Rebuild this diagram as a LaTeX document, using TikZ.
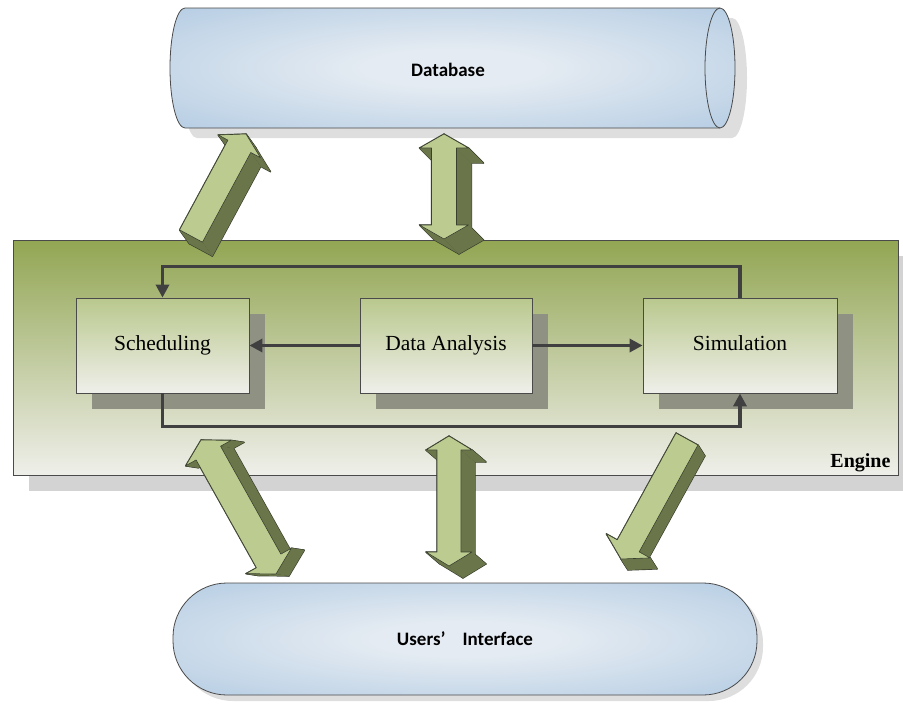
\documentclass[tikz,border=0pt]{standalone}
\usepackage{fontspec}
\setmainfont{Liberation Serif}
\newfontfamily\capfont{Carlito}
\usetikzlibrary{calc,shadows,arrows.meta}

\definecolor{dbinner}{HTML}{E4EBF2}
\definecolor{dbouter}{HTML}{A5C2DE}
\definecolor{frame}{HTML}{4A4A4A}
\definecolor{enginetop}{HTML}{92A653}
\definecolor{enginebot}{HTML}{EFEFEA}
\definecolor{boxtop}{HTML}{B9C88D}
\definecolor{boxbot}{HTML}{EFEFEA}
\definecolor{boxshade}{HTML}{8F9283}
\definecolor{engineshade}{HTML}{D3D3D3}
\definecolor{dbshade}{HTML}{DEDEDE}
\definecolor{wire}{HTML}{404040}
\definecolor{face}{HTML}{BCCB8F}
\definecolor{side}{HTML}{6A7649}
\definecolor{rim}{HTML}{3A4030}

\pgfdeclareradialshading{glow}{\pgfpoint{0bp}{0bp}}{%
  color(0bp)=(dbinner); color(8bp)=(dbinner); color(46bp)=(dbouter); color(100bp)=(dbouter)}

% corner points of a single-headed block arrow: name, tail, tip, shaft half width, head half width, head length
\newcommand\singlearrow[6]{%
  \coordinate (#1-b) at ($(#3)!#6!(#2)$);
  \coordinate (#1-1) at ($(#2)!#4!90:(#3)$);
  \coordinate (#1-2) at ($(#1-b)!#4!90:(#3)$);
  \coordinate (#1-3) at ($(#1-b)!#5!90:(#3)$);
  \coordinate (#1-4) at (#3);
  \coordinate (#1-5) at ($(#1-b)!#5!-90:(#3)$);
  \coordinate (#1-6) at ($(#1-b)!#4!-90:(#3)$);
  \coordinate (#1-7) at ($(#2)!#4!-90:(#3)$);
}
% corner points of a double-headed block arrow: name, end A, end B, shaft half width, head half width, head length
\newcommand\twinarrow[6]{%
  \coordinate (#1-p) at ($(#2)!#6!(#3)$);
  \coordinate (#1-q) at ($(#3)!#6!(#2)$);
  \coordinate (#1-1) at (#2);
  \coordinate (#1-2) at ($(#1-p)!#5!90:(#3)$);
  \coordinate (#1-3) at ($(#1-p)!#4!90:(#3)$);
  \coordinate (#1-4) at ($(#1-q)!#4!-90:(#2)$);
  \coordinate (#1-5) at ($(#1-q)!#5!-90:(#2)$);
  \coordinate (#1-6) at (#3);
  \coordinate (#1-7) at ($(#1-q)!#5!90:(#2)$);
  \coordinate (#1-8) at ($(#1-q)!#4!90:(#2)$);
  \coordinate (#1-9) at ($(#1-p)!#4!-90:(#3)$);
  \coordinate (#1-10) at ($(#1-p)!#5!-90:(#3)$);
}
% extruded block: name, number of corners, depth offset
\newcommand\solidify[3]{%
  \foreach \i in {1,...,#2} {
    \pgfmathtruncatemacro\j{mod(\i,#2)+1}
    \path[fill=rim,draw=rim,line width=1.3pt,line join=round]
      (#1-\i) -- (#1-\j) -- ($(#1-\j)+(#3)$) -- ($(#1-\i)+(#3)$) -- cycle;
  }
  \foreach \i in {1,...,#2} {
    \pgfmathtruncatemacro\j{mod(\i,#2)+1}
    \path[fill=side]
      (#1-\i) -- (#1-\j) -- ($(#1-\j)+(#3)$) -- ($(#1-\i)+(#3)$) -- cycle;
  }
  \path[fill=face,draw=rim,line width=0.6pt,line join=round]
    (#1-1) \foreach \i in {2,...,#2} { -- (#1-\i) } -- cycle;
}

\tikzset{
  enginebox/.style={draw=frame, line width=0.8pt, shading=axis, top color=enginetop,
    bottom color=enginebot, inner sep=0pt,
    drop shadow={shadow xshift=16pt, shadow yshift=-16pt, fill=engineshade, opacity=1}},
  taskbox/.style={draw=frame, line width=0.8pt, shading=axis, top color=boxtop,
    bottom color=boxbot, inner sep=0pt, minimum height=95pt,
    text height=14pt, text depth=4pt,
    font=\fontsize{21.5}{26}\selectfont,
    drop shadow={shadow xshift=16pt, shadow yshift=-16pt, fill=boxshade, opacity=1}},
  wireline/.style={draw=wire, line width=3.5pt, -{Triangle[length=13pt,width=13pt]}},
  storelabel/.style={font=\capfont\bfseries\fontsize{19}{23}\selectfont},
}

\begin{document}
\begin{tikzpicture}[x=1pt,y=-1pt]
\useasboundingbox (0,0) rectangle (903,705);

% database cylinder with its shadow
\begin{scope}[shift={(12,10)}]
  \fill[dbshade] (720,8) -- (185,8) arc[start angle=270,end angle=90,x radius=15,y radius=60]
    -- (720,128) arc[start angle=90,end angle=-90,x radius=15,y radius=60] -- cycle;
\end{scope}
\path[draw=frame, line width=0.8pt, shade, shading=glow]
  (720,8) -- (185,8) arc[start angle=270,end angle=90,x radius=15,y radius=60]
  -- (720,128) arc[start angle=90,end angle=-90,x radius=15,y radius=60] -- cycle;
\draw[frame, line width=0.8pt] (720,8) arc[start angle=270,end angle=90,x radius=15,y radius=60];
\node[storelabel] (db) at (448,70) {Database};

% engine with its three stages
\node[enginebox, minimum width=885pt, minimum height=235pt] (engine) at (455.5,357.5) {};
\node[anchor=base east, font=\bfseries\fontsize{20}{24}\selectfont] (englabel) at (894,467) {Engine};

\node[taskbox, minimum width=173pt] (sched) at (162.5,345.5) {Scheduling};
\node[taskbox, minimum width=172pt] (ana) at (446,345.5) {Data Analysis};
\node[taskbox, minimum width=194pt] (sim) at (740,345.5) {Simulation};

\draw[wireline] (ana.west) -- (sched.east);
\draw[wireline] (ana.east) -- (sim.west);
\draw[wireline] (sim.north) -- ++(0,-31) -| (sched.north);
\draw[wireline] (sched.south) -- ++(0,33) -| (sim.south);

% users' interface
\node[draw=frame, line width=0.8pt, rounded corners=54pt, minimum width=584pt, minimum height=112pt,
  shade, shading=glow, storelabel,
  drop shadow={shadow xshift=6pt, shadow yshift=-6pt, fill=dbshade, opacity=1}]
  (ui) at (465,639) {Users’\hspace{0.9em}Interface};

% block arrows between database, engine and interface
\coordinate (aT) at (191,236);
\coordinate (aH) at (246,134);
\singlearrow{A}{aT}{aH}{13pt}{24pt}{14pt}
\solidify{A}{7}{10,14}

\coordinate (bU) at (444,134);
\coordinate (bD) at (444,239);
\twinarrow{B}{bU}{bD}{12.5pt}{24.5pt}{14pt}
\solidify{B}{10}{15,15}

\coordinate (cU) at (201,440);
\coordinate (cD) at (276,574);
\twinarrow{C}{cU}{cD}{14pt}{26pt}{15pt}
\solidify{C}{10}{13,2}

\coordinate (dU) at (449,436);
\coordinate (dD) at (449,566);
\twinarrow{D}{dU}{dD}{12pt}{23pt}{14pt}
\solidify{D}{10}{14,12}

\coordinate (eT) at (687,439);
\coordinate (eH) at (621,559);
\singlearrow{E}{eT}{eH}{12.5pt}{25pt}{15pt}
\solidify{E}{7}{7,11}
\end{tikzpicture}
\end{document}
